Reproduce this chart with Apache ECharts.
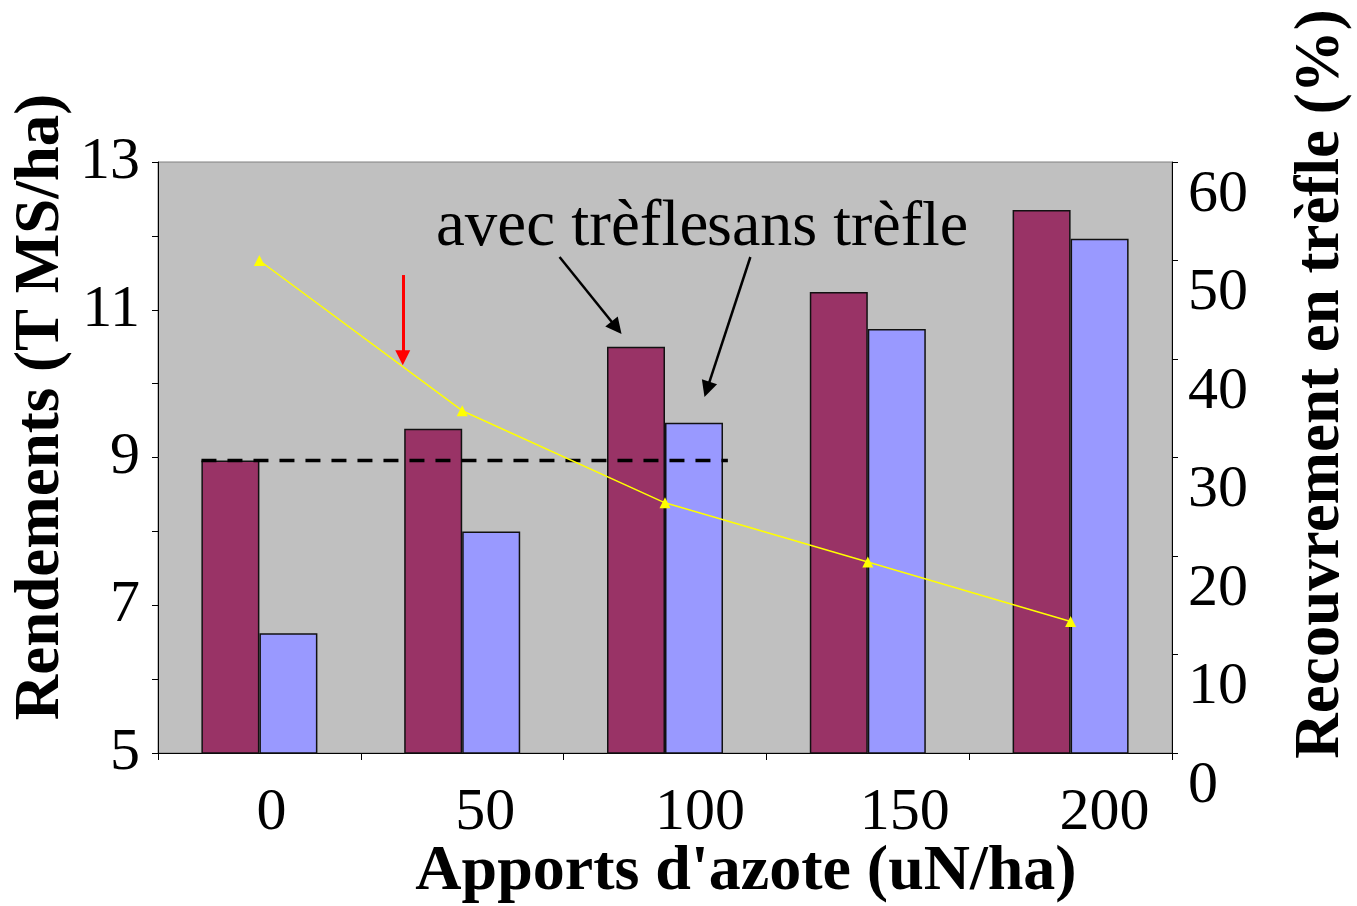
<!DOCTYPE html>
<html>
<head>
<meta charset="utf-8">
<script src="https://cdn.jsdelivr.net/npm/echarts@6/dist/echarts.min.js"></script>
<style>
  html, body { margin: 0; padding: 0; background: #fff; }
  #chart { width: 1357px; height: 906px; }
</style>
</head>
<body>
<div id="chart"></div>
<script>
// Nitrogen rates (uN/ha)
const apports = ['0', '50', '100', '150', '200'];
// Yields (T MS/ha) with and without clover
const avecTrefle = [8.96, 9.39, 10.5, 11.24, 12.35];
const sansTrefle = [6.62, 8.0, 9.47, 10.74, 11.96];
// Clover cover (%)
const recouvrement = [50, 34.75, 25.4, 19.4, 13.35];
// Reference yield of the unfertilised clover mix (dashed line)
const rendementRef = 8.96;

// Annotation arrows, in axis units: [x (category index), y (T MS/ha)]
const flecheRouge = [[0.707, 11.47], [0.707, 10.35]];
const flecheAvec = [[1.480, 11.714], [1.761, 10.756]];
const flecheSans = [[2.421, 11.714], [2.207, 9.922]];

const serif = '"Liberation Serif", "Times New Roman", serif';
const chart = echarts.init(document.getElementById('chart'));

const xPad = [24, 46, 70, 74, 68];
const rich = {};
xPad.forEach((p, i) => { rich['l' + i] = { padding: [0, 0, 0, p], fontSize: 60, fontFamily: serif, color: '#000' }; });

chart.setOption({
  animation: false,
  backgroundColor: '#fff',
  grid: {
    left: 158, right: 185, top: 162, bottom: 153,
    show: true, backgroundColor: '#c0c0c0', borderColor: '#808080', borderWidth: 1
  },
  xAxis: [
    {
      type: 'category',
      data: apports,
      axisLine: { onZero: false, lineStyle: { color: '#000', width: 1 } },
      axisTick: { show: true, length: 7, lineStyle: { color: '#000' } },
      axisLabel: {
        margin: 30,
        verticalAlign: 'top',
        formatter: (v, i) => '{l' + i + '|' + v + '}',
        rich: rich
      },
      splitLine: { show: false }
    },
    {
      type: 'value', min: -0.5, max: 4.5, show: false
    }
  ],
  yAxis: [
    {
      type: 'value', min: 5, max: 13, interval: 1,
      axisLine: { show: true, onZero: false, lineStyle: { color: '#000' } },
      axisTick: { show: true, length: 6, lineStyle: { color: '#000' } },
      axisLabel: {
        margin: 18, fontSize: 60, fontFamily: serif, color: '#000',
        formatter: v => (v % 2 === 1 ? String(v) : '')
      },
      splitLine: { show: false }
    },
    {
      type: 'value', min: 0, max: 60, interval: 10, position: 'right',
      axisLine: { show: true, onZero: false, lineStyle: { color: '#000' } },
      axisTick: { show: true, length: 6, lineStyle: { color: '#000' } },
      axisLabel: {
        margin: 16, fontSize: 60, fontFamily: serif, color: '#000',
        verticalAlign: 'top', lineHeight: 66
      },
      splitLine: { show: false }
    }
  ],
  series: [
    {
      name: 'avec trèfle', type: 'bar', data: avecTrefle,
      barWidth: 58, barGap: '0%',
      itemStyle: { color: '#993366', borderColor: '#111', borderWidth: 1.5 }
    },
    {
      name: 'sans trèfle', type: 'bar', data: sansTrefle,
      barWidth: 58, barGap: '0%',
      itemStyle: { color: '#9999ff', borderColor: '#111', borderWidth: 1.5 }
    },
    {
      name: 'Recouvrement en trèfle', type: 'line', yAxisIndex: 1, data: recouvrement,
      symbol: 'triangle', symbolSize: 11,
      itemStyle: { color: '#ffff00' },
      lineStyle: { color: '#ffff00', width: 1.5 },
      z: 5
    },
    {
      name: 'référence', type: 'line', xAxisIndex: 1, yAxisIndex: 0,
      data: [[-0.2857, rendementRef], [2.31, rendementRef]],
      symbol: 'none',
      lineStyle: { color: '#000', width: 3.5, type: [15, 11] },
      z: 4,
      markLine: {
        silent: true,
        symbol: ['none', 'triangle'],
        label: { show: false },
        data: [
          [
            { coord: flecheRouge[0], lineStyle: { color: '#ff0000', width: 3, type: 'solid' } },
            { coord: flecheRouge[1], symbolSize: 15 }
          ],
          [
            { coord: flecheAvec[0], lineStyle: { color: '#000', width: 2.5, type: 'solid' } },
            { coord: flecheAvec[1], symbolSize: 16 }
          ],
          [
            { coord: flecheSans[0], lineStyle: { color: '#000', width: 2.5, type: 'solid' } },
            { coord: flecheSans[1], symbolSize: 16 }
          ]
        ]
      }
    }
  ],
  graphic: [
    {
      type: 'text', x: 436, y: 228,
      style: { text: 'avec trèfle', font: '65px ' + serif, fill: '#000', align: 'left', verticalAlign: 'middle' }
    },
    {
      type: 'text', x: 707, y: 228,
      style: { text: 'sans trèfle', font: '64px ' + serif, fill: '#000', align: 'left', verticalAlign: 'middle' }
    },
    {
      type: 'text', x: 42, y: 407, rotation: Math.PI / 2,
      style: { text: 'Rendements (T MS/ha)', font: 'bold 63px ' + serif, fill: '#000', align: 'center', verticalAlign: 'middle' }
    },
    {
      type: 'text', x: 1322, y: 384, rotation: Math.PI / 2,
      style: { text: 'Recouvrement en trèfle (%)', font: 'bold 63px ' + serif, fill: '#000', align: 'center', verticalAlign: 'middle' }
    },
    {
      type: 'text', x: 746, y: 872,
      style: { text: "Apports d'azote (uN/ha)", font: 'bold 64px ' + serif, fill: '#000', align: 'center', verticalAlign: 'middle' }
    }
  ]
});
</script>
</body>
</html>
